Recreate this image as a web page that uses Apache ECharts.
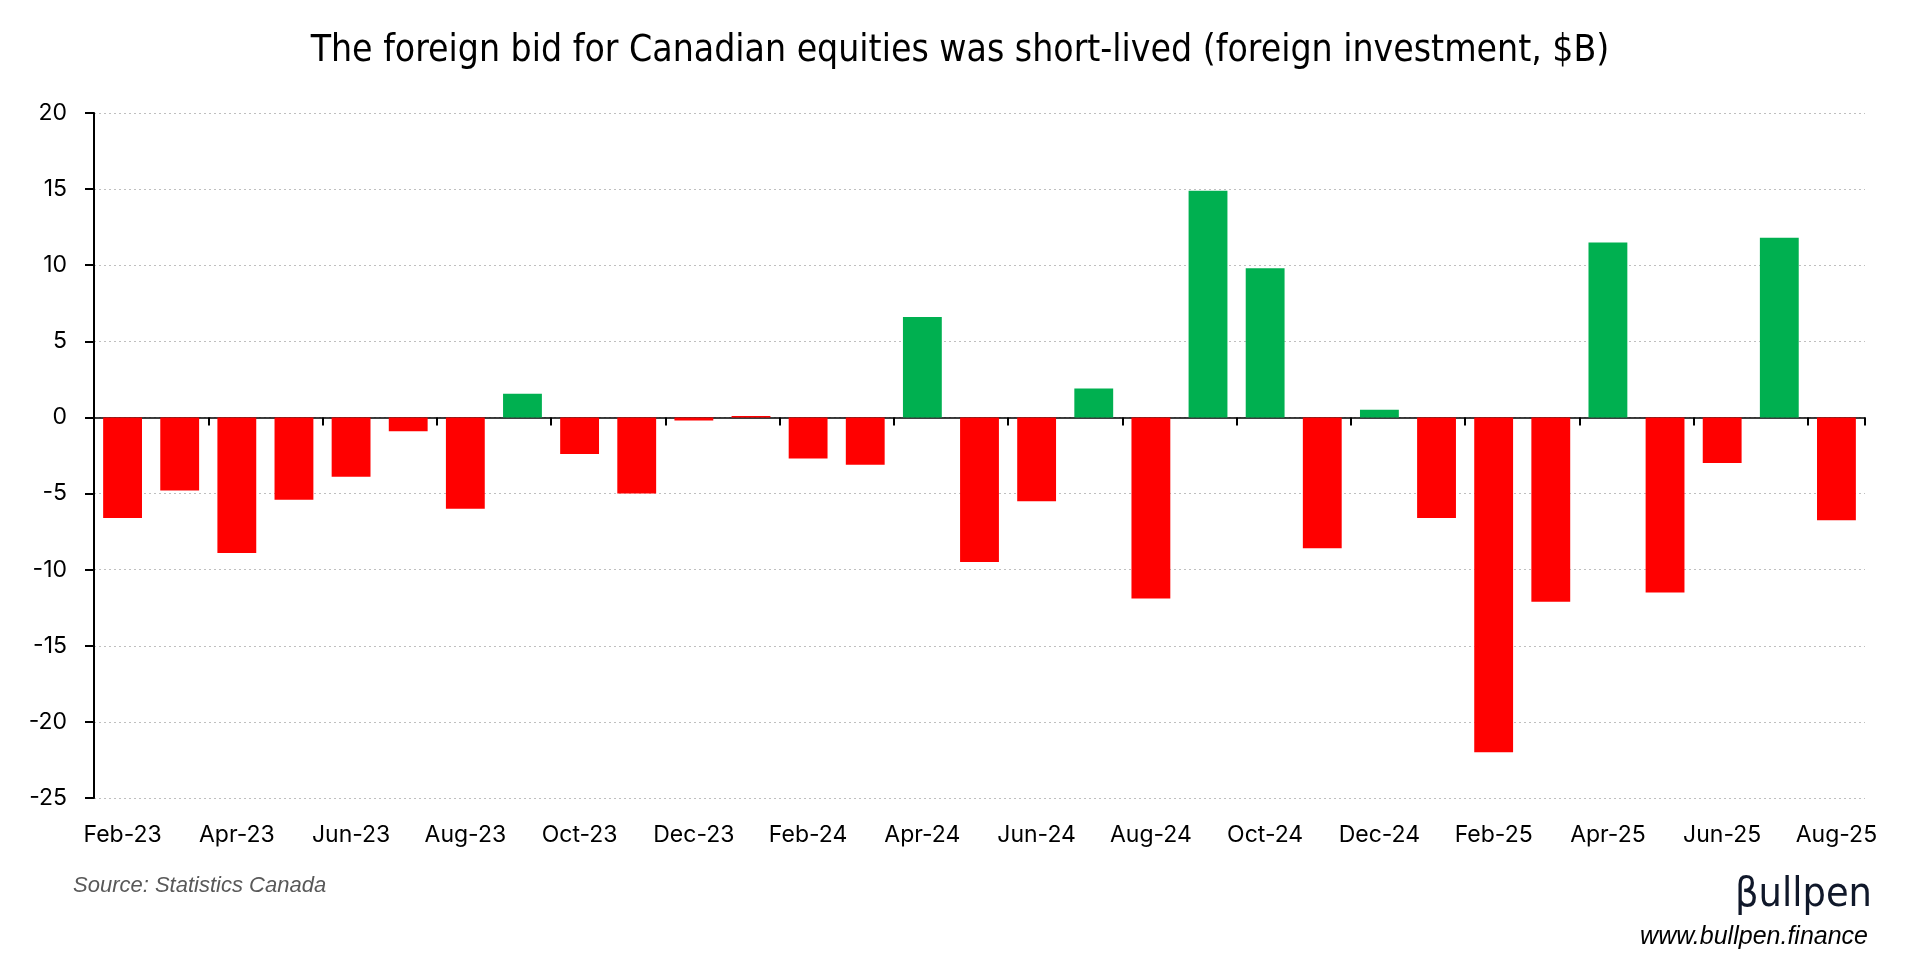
<!DOCTYPE html>
<html>
<head>
<meta charset="utf-8">
<script src="https://cdn.jsdelivr.net/npm/echarts@6/dist/echarts.min.js"></script>
<style>
html,body{margin:0;padding:0;background:#fff;}
#chart{width:1920px;height:980px;}
</style>
</head>
<body>
<div id="chart"></div>
<script>
const months = ['Feb-23','Mar-23','Apr-23','May-23','Jun-23','Jul-23','Aug-23','Sep-23','Oct-23','Nov-23','Dec-23',
  'Jan-24','Feb-24','Mar-24','Apr-24','May-24','Jun-24','Jul-24','Aug-24','Sep-24','Oct-24','Nov-24','Dec-24',
  'Jan-25','Feb-25','Mar-25','Apr-25','May-25','Jun-25','Jul-25','Aug-25'];
const foreignInvestment = [-6.6,-4.8,-8.9,-5.4,-3.9,-0.9,-6.0,1.55,-2.4,-5.0,-0.2,
  0.1,-2.7,-3.1,6.6,-9.5,-5.5,1.9,-11.9,14.9,9.8,-8.6,0.5,
  -6.6,-22.0,-12.1,11.5,-11.5,-3.0,11.8,-6.75];
const yTicks = {min:-25, max:20, step:5};
const titleText = 'The foreign bid for Canadian equities was short-lived (foreign investment, $B)';
const sourceText = 'Source: Statistics Canada';
const brandText = 'βullpen';
const siteText = 'www.bullpen.finance';

const GREEN = '#00B050', RED = '#FF0000';
const FONT = "Inter, 'Noto Sans', sans-serif";
const chart = echarts.init(document.getElementById('chart'));
chart.setOption({
  backgroundColor:'#fff',
  animation:false,
  title:{
    text:titleText, left:'center', top:28,
    textStyle:{fontFamily:"'Liberation Sans Narrow','DejaVu Sans Condensed',sans-serif", fontSize:37, fontWeight:'normal', color:'#000'}
  },
  grid:{left:94, right:55, top:113, bottom:182, containLabel:false},
  xAxis:[{
    type:'category', data:months, position:'bottom',
    axisLine:{onZero:true, lineStyle:{color:'#000', width:1.5}},
    axisTick:{show:true, interval:1, length:8, lineStyle:{color:'#000', width:2}},
    axisLabel:{show:false},
    splitLine:{show:false}
  },{
    type:'category', data:months, position:'bottom',
    axisLine:{show:false, onZero:false},
    axisTick:{show:false},
    axisLabel:{interval:1, margin:26, fontFamily:FONT, fontSize:23, color:'#000'},
    splitLine:{show:false}
  }],
  yAxis:{
    type:'value', min:yTicks.min, max:yTicks.max, interval:yTicks.step,
    axisLine:{show:true, lineStyle:{color:'#000', width:2}},
    axisTick:{show:true, length:9, lineStyle:{color:'#000', width:2}},
    axisLabel:{margin:27, fontFamily:FONT, fontSize:23, color:'#000'},
    splitLine:{show:true, lineStyle:{color:'#bfbfbf', width:1.2, type:[2,3]}}
  },
  series:[{
    type:'bar', xAxisIndex:0, data:foreignInvestment, barCategoryGap:'32%',
    itemStyle:{color:p => p.value > 0.25 ? GREEN : RED}
  }],
  graphic:[
    {type:'text', x:73, y:886, style:{text:sourceText, fontFamily:"'Liberation Sans','Open Sans',sans-serif", fontStyle:'italic', fontSize:22, fill:'#595959', textVerticalAlign:'middle'}},
    {type:'text', x:1872, y:895, style:{text:brandText, fontFamily:"'Liberation Sans Narrow','DejaVu Sans Condensed',sans-serif", fontSize:41, fill:'#10182a', textAlign:'right', textVerticalAlign:'middle'}},
    {type:'text', x:1868, y:937, style:{text:siteText, fontFamily:"'Liberation Sans','Open Sans',sans-serif", fontStyle:'italic', fontSize:25, fill:'#000', textAlign:'right', textVerticalAlign:'middle'}}
  ]
});
</script>
</body>
</html>
